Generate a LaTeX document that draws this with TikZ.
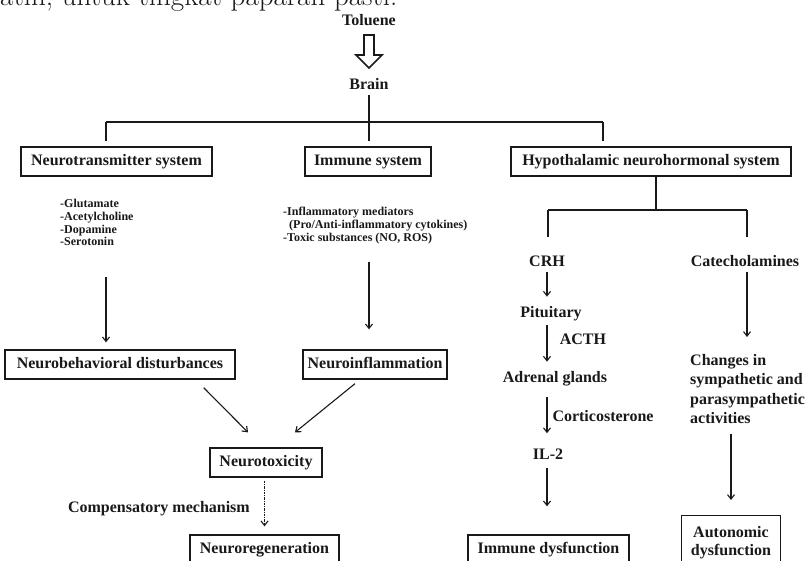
\documentclass[tikz,border=0pt]{standalone}
\usepackage{fontspec}
\usetikzlibrary{arrows.meta}
\newfontfamily\tnr{Liberation Serif}
\definecolor{ink}{gray}{0.1}
\begin{document}
\begin{tikzpicture}[x=1pt,y=-1pt,
  every node/.style={inner sep=0pt, text=ink},
  lbl/.style={font=\tnr\bfseries\fontsize{16}{18}\selectfont},
  boxed/.style={lbl, draw=ink, line width=1.3pt, minimum height=29pt,
                text height=11pt, text depth=3.5pt},
  tallbox/.style={draw=ink, line width=1.3pt, align=center, inner xsep=0pt,
                  inner ysep=11pt, font=\tnr\bfseries\fontsize{16}{18}\selectfont},
  listtxt/.style={font=\tnr\bfseries\fontsize{12}{12.8}\selectfont,
                  align=left, anchor=north west},
  link/.style={draw=ink, line width=1.1pt},
  tip/.style={-{Straight Barb[length=4.5pt,width=7pt,line width=1.1pt]}},
  arr/.style={link, tip},
]
\useasboundingbox (0,0) rectangle (807,561);
\clip (0,0) rectangle (807,561);
\fill[white] (0,0) rectangle (807,561);

% running text of the page above the figure
\node[anchor=base west, font=\fontsize{29}{34}\selectfont] (runhead) at (0,6)
  {atih, untuk tingkat paparan pasti.};

% exposure
\node[lbl, anchor=base] (toluene) at (369,26) {Toluene};
\coordinate (bat) at (369,35);
\draw[ink, line width=1.6pt, line join=miter, fill=white]
  (bat) ++(-5,0) -- ++(0,20) -- ++(-8,0) -- ++(13,13) -- ++(13,-13)
  -- ++(-8,0) -- ++(0,-20) -- cycle;
\node[lbl, anchor=base] (brain) at (369,90) {Brain};

% first level systems
\node[boxed, minimum width=191pt] (nts) at (116.5,161.5) {Neurotransmitter system};
\node[boxed, minimum width=126pt] (imm) at (368,161.5) {Immune system};
\node[boxed, minimum width=280pt] (hyp) at (651,161.5) {Hypothalamic neurohormonal system};

\coordinate (tl) at (106,122);
\coordinate (tm) at (369,122);
\coordinate (tr) at (603,122);
\draw[link, shorten <=5pt] (brain.south) -- (tm);
\draw[link] (tl) -- (tr);
\draw[link, shorten >=5pt] (tl) -- (tl |- nts.north);
\draw[link, shorten >=5pt] (tm) -- (tm |- imm.north);
\draw[link, shorten >=5pt] (tr) -- (tr |- hyp.north);

% neurotransmitter branch
\node[listtxt] (nlist) at (60,199) {-Glutamate\\-Acetylcholine\\-Dopamine\\-Serotonin};
\node[boxed, minimum width=230pt] (neurobeh) at (120,364.5) {Neurobehavioral disturbances};
\draw[arr, shorten <=31pt, shorten >=7pt] (tl |- nlist.south) -- (tl |- neurobeh.north);

% immune branch
\node[listtxt] (ilist) at (283,207)
  {-Inflammatory mediators\\\hspace*{6pt}(Pro/Anti-inflammatory cytokines)\\-Toxic substances (NO, ROS)};
\node[boxed, minimum width=144pt] (neuroinfl) at (375,364.5) {Neuroinflammation};
\draw[arr, shorten <=18pt, shorten >=20pt] (tm |- ilist.south) -- (tm |- neuroinfl.north);

% convergence
\node[boxed, minimum width=112pt] (neurotox) at (266,462.5) {Neurotoxicity};
\draw[arr] ([xshift=-32pt,yshift=-8pt]neurobeh.south east) -- ([xshift=-18pt,yshift=15pt]neurotox.north);
\draw[arr] ([xshift=-20pt,yshift=-4pt]neuroinfl.south) -- ([xshift=29pt,yshift=15pt]neurotox.north);

\node[boxed, minimum width=149pt] (neuroregen) at (264.5,549.5) {Neuroregeneration};
\node[lbl, anchor=base east] (comp) at (250,513) {Compensatory mechanism};
\draw[link, tip, line width=1.2pt, dash pattern=on 2.5pt off 1pt on 1pt off 1pt,
      shorten <=3pt, shorten >=8pt]
  (neurotox.south -| neuroregen.north) -- (neuroregen.north);

% hypothalamic branch
\coordinate (hm) at (656,210);
\coordinate (hl) at (548,210);
\coordinate (hr) at (747,210);
\node[lbl, anchor=base] (crh) at (547,267) {CRH};
\node[lbl, anchor=base] (cat) at (745,267) {Catecholamines};
\draw[link] (hm |- hyp.south) -- (hm);
\draw[link] (hl) -- (hr);
\draw[link, shorten >=19pt] (hl) -- (hl |- crh.north);
\draw[link, shorten >=19pt] (hr) -- (hr |- cat.north);

\node[lbl, anchor=base] (pit) at (551,318) {Pituitary};
\node[lbl, anchor=base] (acth) at (583,345) {ACTH};
\node[lbl, anchor=base] (adr) at (555,383) {Adrenal glands};
\node[lbl, anchor=base] (cort) at (603,422) {Corticosterone};
\node[lbl, anchor=base] (il2) at (548,460) {IL-2};
\node[boxed, minimum width=161pt] (immdys) at (548.5,549.5) {Immune dysfunction};

\draw[arr, shorten <=5pt, shorten >=10pt] (crh.south) -- (crh.south |- pit.north);
\draw[arr, shorten <=3pt, shorten >=10pt] (crh.south |- pit.south) -- (crh.south |- adr.north);
\draw[arr, shorten <=10pt, shorten >=16pt] (crh.south |- adr.south) -- (crh.south |- il2.north);
\draw[arr, shorten <=8pt, shorten >=28pt] (crh.south |- il2.south) -- (crh.south |- immdys.north);

\node[align=left, anchor=north west, font=\tnr\bfseries\fontsize{16}{19.5}\selectfont] (chg) at (690,354)
  {Changes in\\sympathetic and\\parasympathetic\\activities};
\node[tallbox, minimum width=99pt, anchor=north] (autdys) at (731,515) {Autonomic\\dysfunction};
\draw[arr, shorten <=5pt, shorten >=17pt] (hr |- cat.south) -- (hr |- chg.north);
\draw[arr, shorten <=9.5pt, shorten >=15pt] (autdys.north |- chg.south) -- (autdys.north);
\end{tikzpicture}
\end{document}
